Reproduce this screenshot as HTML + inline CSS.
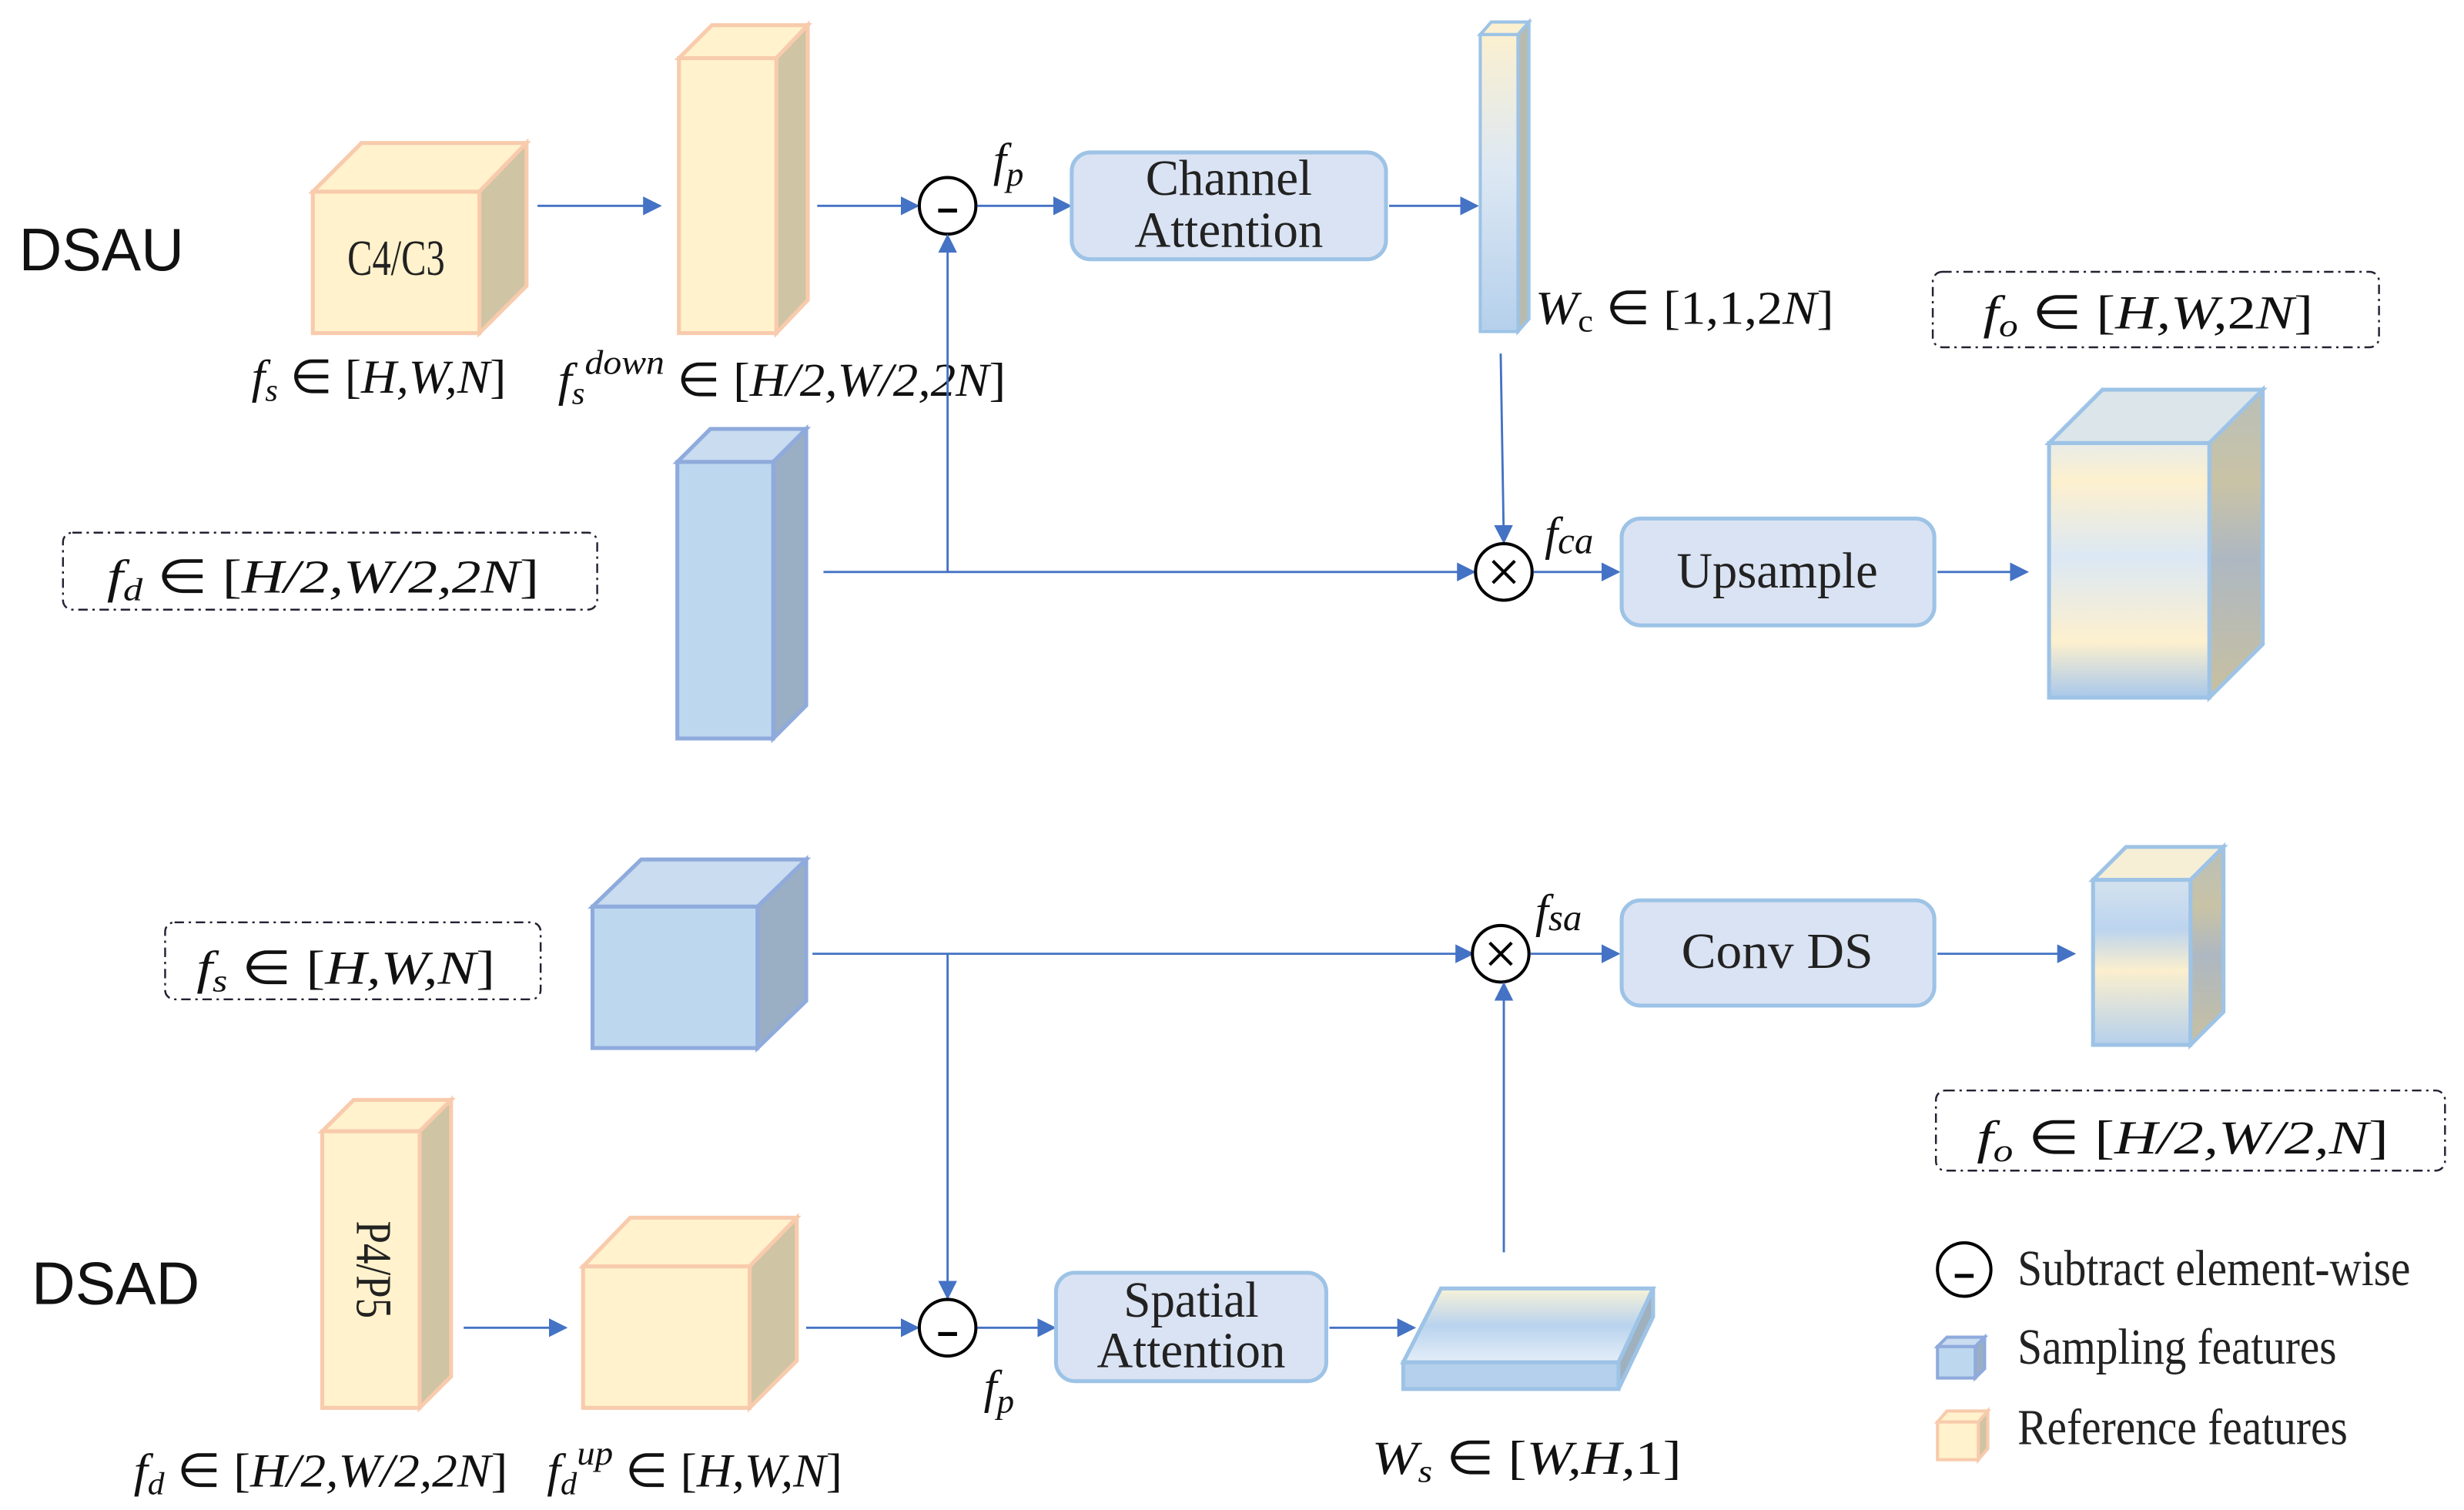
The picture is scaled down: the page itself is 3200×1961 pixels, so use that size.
<!DOCTYPE html>
<html><head><meta charset="utf-8"><style>
html,body{margin:0;padding:0;background:#fff}
svg{display:block}
.m{font-family:"Liberation Serif",serif;font-style:italic;font-size:30px;fill:#111}
.r{font-style:normal}
.t{font-family:"Liberation Serif",serif;font-size:32px;fill:#222}
.s{font-family:"Liberation Sans",sans-serif;font-size:38px;fill:#111}
.ln{stroke:#4472C4;stroke-width:1.4;fill:none}
.bx{fill:#DAE3F3;stroke:#9DC3E6;stroke-width:2.5}
.db{fill:none;stroke:#223;stroke-width:1.2;stroke-dasharray:6 3 1.5 3}
</style></head><body>
<svg width="3200" height="1961" viewBox="0 0 1568 961" xmlns="http://www.w3.org/2000/svg">
<defs>
<marker id="a" viewBox="0 0 10 10" refX="9" refY="5" markerWidth="12" markerHeight="12" markerUnits="userSpaceOnUse" orient="auto"><path d="M0,0L10,5L0,10z" fill="#4472C4"/></marker>
<linearGradient id="g1" x1="0" y1="0" x2="0" y2="1"><stop offset="0" stop-color="#FBF0D0"/><stop offset="0.45" stop-color="#DDE8F3"/><stop offset="1" stop-color="#B5D0EC"/></linearGradient>
<linearGradient id="g2" x1="0" y1="0" x2="0" y2="1"><stop offset="0" stop-color="#E8ECE8"/><stop offset="0.15" stop-color="#FDF0CE"/><stop offset="0.45" stop-color="#DCE8F4"/><stop offset="0.78" stop-color="#FDF0CE"/><stop offset="1" stop-color="#A8C8EA"/></linearGradient>
<linearGradient id="g2s" x1="0" y1="0" x2="0" y2="1"><stop offset="0" stop-color="#B9BFB8"/><stop offset="0.3" stop-color="#C9C3A6"/><stop offset="0.55" stop-color="#AEB8C2"/><stop offset="1" stop-color="#C8C0A0"/></linearGradient>
<linearGradient id="g3" x1="0" y1="0" x2="0" y2="1"><stop offset="0" stop-color="#D4E2EE"/><stop offset="0.3" stop-color="#BCD4EE"/><stop offset="0.55" stop-color="#FBEFCE"/><stop offset="1" stop-color="#B5D0EC"/></linearGradient>
<linearGradient id="g4" x1="0" y1="0" x2="0" y2="1"><stop offset="0" stop-color="#F8F2D8"/><stop offset="0.5" stop-color="#B9D3EE"/><stop offset="1" stop-color="#E4EEF8"/></linearGradient>
</defs>

<text class="s" x="12" y="172" textLength="105" lengthAdjust="spacingAndGlyphs">DSAU</text>
<polygon points="199,122 230,91 335,91 305,122" fill="#FFF2CC" stroke="#F8CBAD" stroke-width="2.5"/>
<polygon points="305,122 335,91 335,182 305,212" fill="#CFC4A4" stroke="#F8CBAD" stroke-width="2.5"/>
<rect x="199" y="122" width="106" height="90" fill="#FFF2CC" stroke="#F8CBAD" stroke-width="2.5"/>
<text class="t" x="252" y="175" text-anchor="middle" font-size="22" textLength="62" lengthAdjust="spacingAndGlyphs">C4/C3</text>
<text class="m" x="160" y="250" textLength="162" lengthAdjust="spacingAndGlyphs">f<tspan font-size="20" dy="5">s</tspan><tspan dy="-5" class="r"> ∈ [</tspan>H,W,N<tspan class="r">]</tspan></text>
<line class="ln" x1="342" y1="131" x2="420" y2="131" marker-end="url(#a)"/>
<polygon points="432,37 453,16 514,16 494,37" fill="#FFF2CC" stroke="#F8CBAD" stroke-width="2.5"/>
<polygon points="494,37 514,16 514,191 494,212" fill="#CFC4A4" stroke="#F8CBAD" stroke-width="2.5"/>
<rect x="432" y="37" width="62" height="175" fill="#FFF2CC" stroke="#F8CBAD" stroke-width="2.5"/>
<text class="m" x="355" y="252" textLength="285" lengthAdjust="spacingAndGlyphs">f<tspan font-size="20" dy="5">s</tspan><tspan font-size="22" dy="-19">down</tspan><tspan dy="14" class="r"> ∈ [</tspan>H/2,W/2,2N<tspan class="r">]</tspan></text>
<line class="ln" x1="520" y1="131" x2="584" y2="131" marker-end="url(#a)"/>
<circle cx="603" cy="131" r="18" fill="#fff" stroke="#000" stroke-width="2"/>
<line x1="597" y1="134" x2="609" y2="134" stroke="#000" stroke-width="2.5"/>
<text class="m" x="632" y="112" font-size="32">f<tspan font-size="22" dy="6">p</tspan></text>
<line class="ln" x1="622" y1="131" x2="681" y2="131" marker-end="url(#a)"/>
<rect class="bx" x="682" y="97" width="200" height="68" rx="12"/>
<text class="t" x="782" y="124" text-anchor="middle" textLength="106" lengthAdjust="spacingAndGlyphs">Channel</text>
<text class="t" x="782" y="157" text-anchor="middle" textLength="120" lengthAdjust="spacingAndGlyphs">Attention</text>
<line class="ln" x1="884" y1="131" x2="940" y2="131" marker-end="url(#a)"/>
<polygon points="942,22 949,14 973,14 966,22" fill="#FBF0D0" stroke="#9DC3E6" stroke-width="2"/>
<polygon points="966,22 973,14 973,203 966,211" fill="#B8BBB0" stroke="#9DC3E6" stroke-width="2"/>
<rect x="942" y="22" width="24" height="189" fill="url(#g1)" stroke="#9DC3E6" stroke-width="2"/>
<text class="m" x="977" y="206" textLength="190" lengthAdjust="spacingAndGlyphs">W<tspan font-size="20" dy="5" class="r">c</tspan><tspan dy="-5" class="r"> ∈ [1,1,2</tspan>N<tspan class="r">]</tspan></text>
<rect class="db" x="1230" y="173" width="284" height="48" rx="6"/>
<text class="m" x="1262" y="209" textLength="210" lengthAdjust="spacingAndGlyphs">f<tspan font-size="20" dy="5">o</tspan><tspan dy="-5" class="r"> ∈ [</tspan>H,W,<tspan class="r">2</tspan>N<tspan class="r">]</tspan></text>
<line class="ln" x1="955" y1="225" x2="957" y2="345" marker-end="url(#a)"/>
<polygon points="431,294 452,273 513,273 492,294" fill="#C9DCF0" stroke="#8FAADC" stroke-width="2.5"/>
<polygon points="492,294 513,273 513,449 492,470" fill="#9AAEC4" stroke="#8FAADC" stroke-width="2.5"/>
<rect x="431" y="294" width="61" height="176" fill="#BDD7EE" stroke="#8FAADC" stroke-width="2.5"/>
<rect class="db" x="40" y="339" width="340" height="49" rx="6"/>
<text class="m" x="68" y="377" textLength="275" lengthAdjust="spacingAndGlyphs">f<tspan font-size="20" dy="5">d</tspan><tspan dy="-5" class="r"> ∈ [</tspan>H/2,W/2,2N<tspan class="r">]</tspan></text>
<line class="ln" x1="524" y1="364" x2="938" y2="364" marker-end="url(#a)"/>
<line class="ln" x1="603" y1="364" x2="603" y2="150" marker-end="url(#a)"/>
<circle cx="957" cy="364" r="18" fill="#fff" stroke="#000" stroke-width="2"/>
<path d="M950,357L964,371M964,357L950,371" stroke="#000" stroke-width="2"/>
<text class="m" x="983" y="350" font-size="32">f<tspan font-size="24" dy="2">ca</tspan></text>
<line class="ln" x1="976" y1="364" x2="1030" y2="364" marker-end="url(#a)"/>
<rect class="bx" x="1032" y="330" width="199" height="68" rx="12"/>
<text class="t" x="1131" y="374" text-anchor="middle" textLength="128" lengthAdjust="spacingAndGlyphs">Upsample</text>
<line class="ln" x1="1233" y1="364" x2="1290" y2="364" marker-end="url(#a)"/>
<polygon points="1304,282 1338,248 1440,248 1406,282" fill="#DCE6EA" stroke="#9DC3E6" stroke-width="2.5"/>
<polygon points="1406,282 1440,248 1440,410 1406,444" fill="url(#g2s)" stroke="#9DC3E6" stroke-width="2.5"/>
<rect x="1304" y="282" width="102" height="162" fill="url(#g2)" stroke="#9DC3E6" stroke-width="2.5"/>

<rect class="db" x="105" y="587" width="239" height="49" rx="6"/>
<text class="m" x="125" y="626" textLength="190" lengthAdjust="spacingAndGlyphs">f<tspan font-size="20" dy="5">s</tspan><tspan dy="-5" class="r"> ∈ [</tspan>H,W,N<tspan class="r">]</tspan></text>
<polygon points="377,577 408,547 513,547 482,577" fill="#C9DCF0" stroke="#8FAADC" stroke-width="2.5"/>
<polygon points="482,577 513,547 513,637 482,667" fill="#9AAEC4" stroke="#8FAADC" stroke-width="2.5"/>
<rect x="377" y="577" width="105" height="90" fill="#BDD7EE" stroke="#8FAADC" stroke-width="2.5"/>
<line class="ln" x1="517" y1="607" x2="937" y2="607" marker-end="url(#a)"/>
<line class="ln" x1="603" y1="607" x2="603" y2="826" marker-end="url(#a)"/>
<circle cx="955" cy="607" r="18" fill="#fff" stroke="#000" stroke-width="2"/>
<path d="M948,600L962,614M962,600L948,614" stroke="#000" stroke-width="2"/>
<text class="m" x="977" y="590" font-size="32">f<tspan font-size="24" dy="2">sa</tspan></text>
<line class="ln" x1="974" y1="607" x2="1030" y2="607" marker-end="url(#a)"/>
<rect class="bx" x="1032" y="573" width="199" height="67" rx="12"/>
<text class="t" x="1131" y="616" text-anchor="middle" textLength="122" lengthAdjust="spacingAndGlyphs">Conv DS</text>
<line class="ln" x1="1233" y1="607" x2="1320" y2="607" marker-end="url(#a)"/>
<polygon points="1332,560 1353,539 1415,539 1394,560" fill="#F6EFD6" stroke="#9DC3E6" stroke-width="2.5"/>
<polygon points="1394,560 1415,539 1415,644 1394,665" fill="url(#g2s)" stroke="#9DC3E6" stroke-width="2.5"/>
<rect x="1332" y="560" width="62" height="105" fill="url(#g3)" stroke="#9DC3E6" stroke-width="2.5"/>
<rect class="db" x="1232" y="694" width="324" height="51" rx="6"/>
<text class="m" x="1258" y="734" textLength="262" lengthAdjust="spacingAndGlyphs">f<tspan font-size="20" dy="5">o</tspan><tspan dy="-5" class="r"> ∈ [</tspan>H/2,W/2,N<tspan class="r">]</tspan></text>
<line class="ln" x1="957" y1="797" x2="957" y2="626" marker-end="url(#a)"/>
<text class="s" x="20" y="830" textLength="107" lengthAdjust="spacingAndGlyphs">DSAD</text>
<polygon points="205,720 225,700 287,700 267,720" fill="#FFF2CC" stroke="#F8CBAD" stroke-width="2.5"/>
<polygon points="267,720 287,700 287,876 267,896" fill="#CFC4A4" stroke="#F8CBAD" stroke-width="2.5"/>
<rect x="205" y="720" width="62" height="176" fill="#FFF2CC" stroke="#F8CBAD" stroke-width="2.5"/>
<text class="t" font-size="22" transform="translate(227,808) rotate(90)" text-anchor="middle" textLength="62" lengthAdjust="spacingAndGlyphs">P4/P5</text>
<line class="ln" x1="295" y1="845" x2="360" y2="845" marker-end="url(#a)"/>
<polygon points="371,806 401,775 507,775 477,806" fill="#FFF2CC" stroke="#F8CBAD" stroke-width="2.5"/>
<polygon points="477,806 507,775 507,866 477,896" fill="#CFC4A4" stroke="#F8CBAD" stroke-width="2.5"/>
<rect x="371" y="806" width="106" height="90" fill="#FFF2CC" stroke="#F8CBAD" stroke-width="2.5"/>
<line class="ln" x1="513" y1="845" x2="584" y2="845" marker-end="url(#a)"/>
<circle cx="603" cy="845" r="18" fill="#fff" stroke="#000" stroke-width="2"/>
<line x1="597" y1="849" x2="609" y2="849" stroke="#000" stroke-width="2.5"/>
<line class="ln" x1="622" y1="845" x2="671" y2="845" marker-end="url(#a)"/>
<text class="m" x="626" y="893" font-size="32">f<tspan font-size="22" dy="6">p</tspan></text>
<rect class="bx" x="672" y="810" width="172" height="69" rx="12"/>
<text class="t" x="758" y="838" text-anchor="middle" textLength="86" lengthAdjust="spacingAndGlyphs">Spatial</text>
<text class="t" x="758" y="870" text-anchor="middle" textLength="120" lengthAdjust="spacingAndGlyphs">Attention</text>
<line class="ln" x1="846" y1="845" x2="900" y2="845" marker-end="url(#a)"/>
<polygon points="893,867 917,820 1052,820 1030,867" fill="url(#g4)" stroke="#9DC3E6" stroke-width="2.5"/>
<polygon points="1030,867 1052,820 1052,838 1030,884" fill="#9FB0BE" stroke="#9DC3E6" stroke-width="2.5"/>
<rect x="893" y="867" width="137" height="17" fill="#B5D0EC" stroke="#9DC3E6" stroke-width="2.5"/>
<text class="m" x="873" y="938" textLength="197" lengthAdjust="spacingAndGlyphs">W<tspan font-size="20" dy="5">s</tspan><tspan dy="-5" class="r"> ∈ [</tspan>W,H,<tspan class="r">1]</tspan></text>
<text class="m" x="85" y="946" textLength="238" lengthAdjust="spacingAndGlyphs">f<tspan font-size="20" dy="5">d</tspan><tspan dy="-5" class="r"> ∈ [</tspan>H/2,W/2,2N<tspan class="r">]</tspan></text>
<text class="m" x="348" y="946" textLength="188" lengthAdjust="spacingAndGlyphs">f<tspan font-size="20" dy="5">d</tspan><tspan font-size="22" dy="-19">up</tspan><tspan dy="14" class="r"> ∈ [</tspan>H,W,N<tspan class="r">]</tspan></text>
<circle cx="1250" cy="808" r="17" fill="#fff" stroke="#000" stroke-width="2"/>
<line x1="1244" y1="812" x2="1256" y2="812" stroke="#000" stroke-width="2.5"/>
<text class="t" x="1284" y="818" font-size="28" textLength="250" lengthAdjust="spacingAndGlyphs">Subtract element-wise</text>
<polygon points="1233,857 1239,851 1263,851 1257,857" fill="#C9DCF0" stroke="#8FAADC" stroke-width="2"/>
<polygon points="1257,857 1263,851 1263,871 1257,877" fill="#9AAEC4" stroke="#8FAADC" stroke-width="2"/>
<rect x="1233" y="857" width="24" height="20" fill="#BDD7EE" stroke="#8FAADC" stroke-width="2"/>
<text class="t" x="1284" y="868" font-size="28" textLength="203" lengthAdjust="spacingAndGlyphs">Sampling features</text>
<polygon points="1233,905 1239,898 1265,898 1259,905" fill="#FFF2CC" stroke="#F8CBAD" stroke-width="2"/>
<polygon points="1259,905 1265,898 1265,922 1259,929" fill="#CFC4A4" stroke="#F8CBAD" stroke-width="2"/>
<rect x="1233" y="905" width="26" height="24" fill="#FFF2CC" stroke="#F8CBAD" stroke-width="2"/>
<text class="t" x="1284" y="919" font-size="28" textLength="210" lengthAdjust="spacingAndGlyphs">Reference features</text>
</svg>
</body></html>
